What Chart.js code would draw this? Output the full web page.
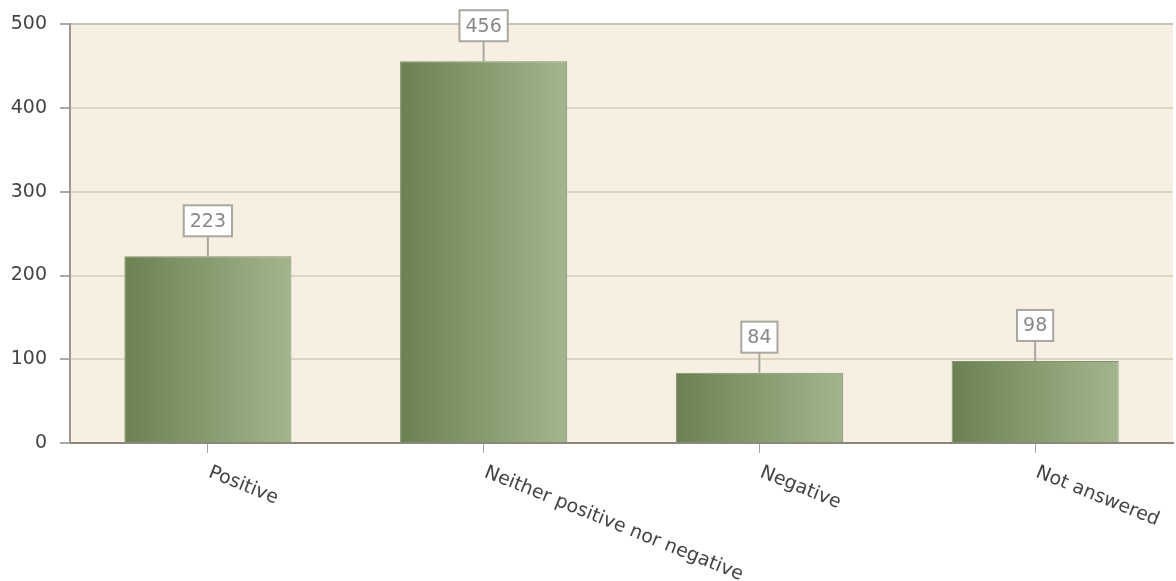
<!DOCTYPE html>
<html>
<head>
<meta charset="utf-8">
<script src="https://cdn.jsdelivr.net/npm/chart.js@4.4.1/dist/chart.umd.min.js"></script>
<style>
  body { margin: 0; background: #fff; }
  #wrap { width: 1176px; height: 581px; }
</style>
</head>
<body>
<div id="wrap"><canvas id="answers" width="1176" height="581"></canvas></div>
<script>
var categories = ['Positive', 'Neither positive nor negative', 'Negative', 'Not answered'];
var counts = [223, 456, 84, 98];
var yTicks = [0, 100, 200, 300, 400, 500];

var BAR_PCT = 0.606;
var FONT = '"DejaVu Sans", Verdana, sans-serif';

// plot background
var plotBg = {
  id: 'plotBg',
  beforeDraw: function(chart) {
    var a = chart.chartArea, c = chart.ctx;
    c.save();
    c.fillStyle = '#f7efe1';
    c.fillRect(a.left, a.top, a.right - a.left, a.bottom - a.top);
    c.restore();
  }
};

// slanted category labels, running down to the right from the tick
var slantLabels = {
  id: 'slantLabels',
  afterDraw: function(chart) {
    var c = chart.ctx, xs = chart.scales.x;
    c.save();
    c.font = '19px ' + FONT;
    c.fillStyle = '#444';
    c.textAlign = 'left';
    c.textBaseline = 'top';
    categories.forEach(function(lbl, i) {
      var x = xs.getPixelForValue(i);
      c.save();
      c.translate(x + 5, xs.top + 20);
      c.rotate(22 * Math.PI / 180);
      c.fillText(lbl, 0, 0);
      c.restore();
    });
    c.restore();
  }
};

// boxed value labels with a short connector line
var valueBoxes = {
  id: 'valueBoxes',
  afterDatasetsDraw: function(chart) {
    var c = chart.ctx;
    var meta = chart.getDatasetMeta(0);
    c.save();
    c.font = '19px ' + FONT;
    meta.data.forEach(function(bar, i) {
      var txt = String(counts[i]);
      var w = c.measureText(txt).width + 12;
      var bottom = bar.y - 20, h = 31;
      c.strokeStyle = '#a8a8a0';
      c.lineWidth = 2;
      c.beginPath();
      c.moveTo(bar.x, bar.y);
      c.lineTo(bar.x, bottom);
      c.stroke();
      c.fillStyle = '#fff';
      c.fillRect(bar.x - w / 2, bottom - h, w, h);
      c.strokeRect(bar.x - w / 2, bottom - h, w, h);
      c.fillStyle = '#888884';
      c.textAlign = 'center';
      c.textBaseline = 'middle';
      c.fillText(txt, bar.x, bottom - h / 2 + 1);
    });
    c.restore();
  }
};

function barGradient(ctx) {
  var chart = ctx.chart;
  var xs = chart.scales.x;
  if (!chart.chartArea || !xs) return '#889c72';
  var cx = xs.getPixelForValue(ctx.dataIndex);
  var half = (xs.width / categories.length) * BAR_PCT / 2;
  var g = chart.ctx.createLinearGradient(cx - half, 0, cx + half, 0);
  g.addColorStop(0, '#6b8152');
  g.addColorStop(1, '#a3b58d');
  return g;
}

var ctx = document.getElementById('answers');
var answersChart = new Chart(ctx, {
  type: 'bar',
  data: {
    labels: categories,
    datasets: [{
      data: counts,
      backgroundColor: barGradient,
      borderColor: '#7f9170',
      borderWidth: 1,
      barPercentage: BAR_PCT,
      categoryPercentage: 1
    }]
  },
  options: {
    responsive: false,
    animation: false,
    layout: { padding: { top: 18, right: 3, left: 0, bottom: 0 } },
    plugins: {
      legend: { display: false },
      tooltip: { enabled: false }
    },
    scales: {
      x: {
        offset: true,
        ticks: { display: false },
        grid: {
          drawOnChartArea: false,
          drawTicks: true,
          tickLength: 10,
          tickColor: '#a0a0a0',
          offset: false
        },
        border: { color: '#8a887e', width: 2 },
        afterFit: function(s) { s.height = 138; }
      },
      y: {
        min: yTicks[0],
        max: yTicks[yTicks.length - 1],
        afterBuildTicks: function(s) {
          s.ticks = yTicks.map(function(v) { return { value: v }; });
        },
        ticks: {
          color: '#444',
          padding: 13,
          font: { family: FONT, size: 19 }
        },
        grid: {
          color: function(c) { return c.tick && c.tick.value === 500 ? '#c9c3b6' : '#ddd5c4'; },
          lineWidth: 2,
          tickLength: 10,
          tickColor: '#aaa'
        },
        border: { color: '#9d988e', width: 2 },
        afterFit: function(s) { s.width = 70; }
      }
    }
  },
  plugins: [plotBg, valueBoxes, slantLabels]
});
</script>
</body>
</html>
